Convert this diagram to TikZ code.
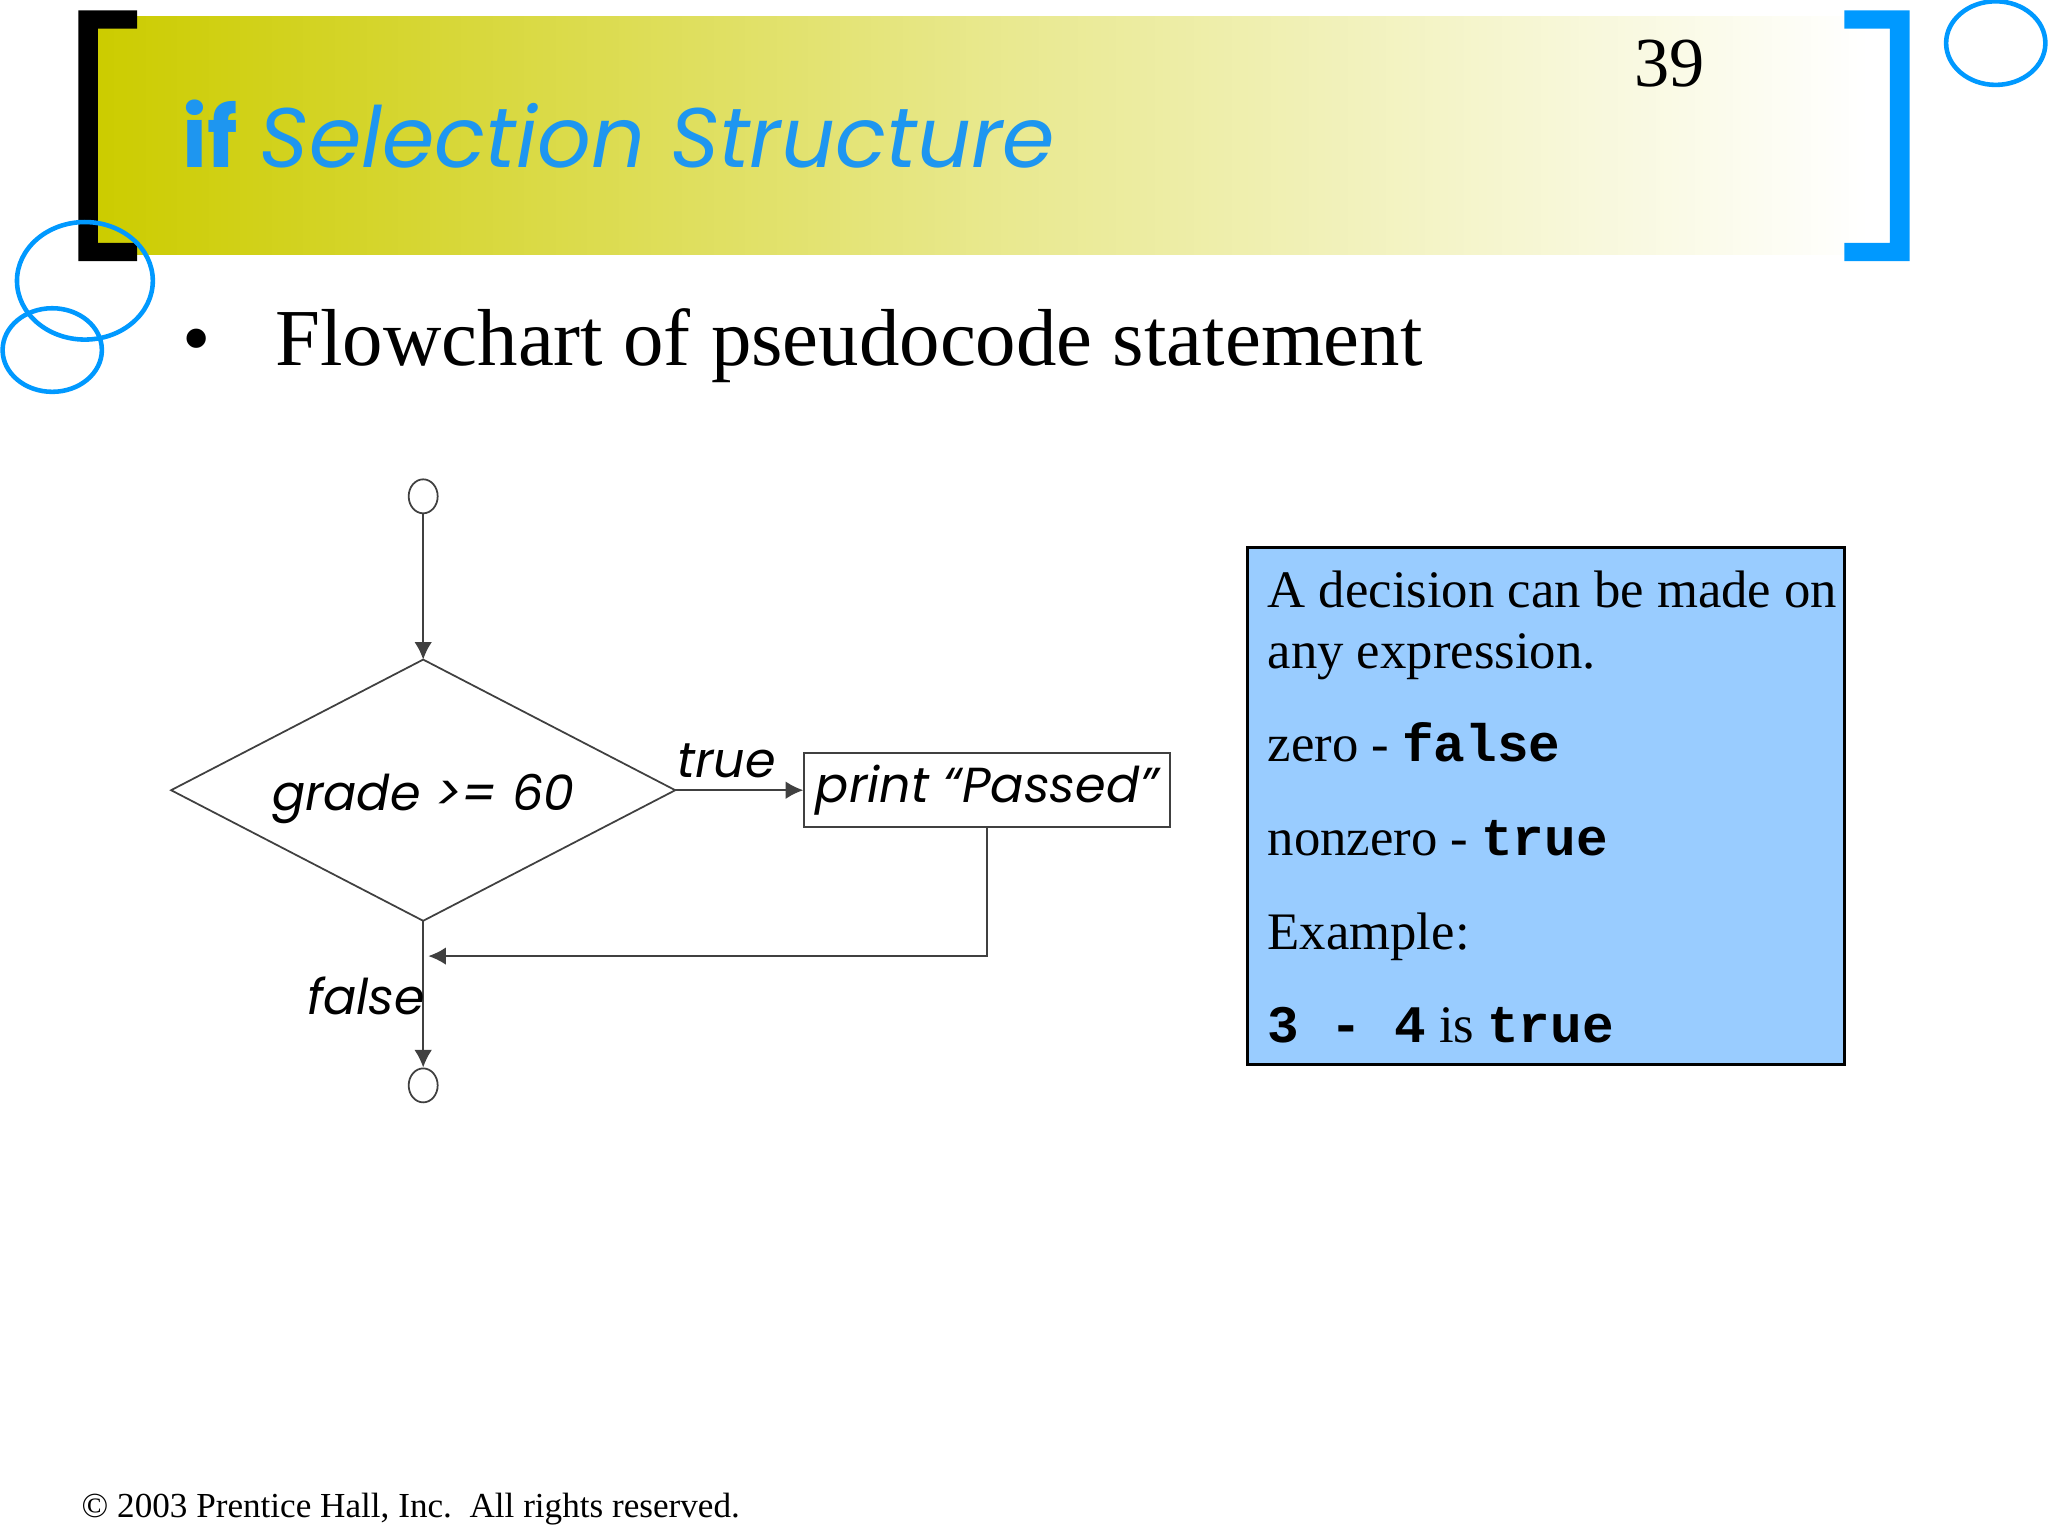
\documentclass[tikz,border=0pt]{standalone}
\usepackage{fontspec}
\setmainfont{Liberation Serif}
\setmonofont{Liberation Mono}
\newfontfamily\gothic{Poppins}
\usetikzlibrary{positioning,shapes.geometric,arrows.meta}
\definecolor{slideblue}{RGB}{0,153,255}
\definecolor{titleblue}{RGB}{30,150,240}
\definecolor{boxblue}{RGB}{153,204,255}
\definecolor{olive}{RGB}{204,204,0}
\tikzset{
  ring/.style={draw=slideblue,line width=1.3pt},
  flow/.style={draw=black!75,line width=0.5pt},
  arr/.style={flow,-{Latex[length=5pt,width=5pt]}},
  term/.style={flow,ellipse,minimum width=0.29cm,minimum height=0.34cm,inner sep=0pt},
  flowtext/.style={font=\gothic\itshape\fontsize{14}{16}\selectfont},
  boxtext/.style={anchor=base west,inner sep=0pt,font=\fontsize{15}{17}\selectfont}
}
\begin{document}
\begin{tikzpicture}[x=0.01306cm,y=-0.01306cm]
\useasboundingbox (0,0) rectangle (1568,1176);
\fill[white] (0,0) rectangle (1568,1176);
% header band
\shade[left color=olive,right color=white,middle color=olive!45] (75,13) rectangle (1430,195);
\fill[black] (60,8) rectangle (75,200) (60,8) rectangle (105,22) (60,186) rectangle (105,200);
\fill[slideblue] (1447,8) rectangle (1462,200) (1412,8) rectangle (1462,22) (1412,186) rectangle (1462,200);
\draw[ring] (1528,33) ellipse [x radius=38,y radius=32];
\draw[ring] (65,215) ellipse [x radius=52,y radius=45];
\draw[ring] (40,268) ellipse [x radius=38,y radius=32];
\node[anchor=base west,text=titleblue,font=\gothic\fontsize{24}{26}\selectfont] (title) at (130,128) {\textbf{if} \textit{Selection Structure}};
\node[anchor=base,font=\fontsize{20}{22}\selectfont] (page) at (1278,66) {39};
\node[anchor=base west,font=\fontsize{23}{26}\selectfont] (bullet) at (130,280) {\textbullet\hspace{0.65cm}Flowchart of pseudocode statement};
% flowchart
\node[term] (start) at (324,380) {};
\coordinate (dtop) at (324,505);
\coordinate (dleft) at (131,605);
\coordinate (dright) at (517,605);
\coordinate (dbot) at (324,705);
\draw[flow] (dtop) -- (dright) -- (dbot) -- (dleft) -- cycle;
\node[flowtext] (cond) at (324,612) {grade >= 60};
\node[flow,flowtext,minimum width=3.47cm,minimum height=0.72cm,anchor=west] (print) at (615,605) {print “Passed”};
\node[term] (stop) at (324,831) {};
\coordinate (corner) at (print.south |- 0,732);
\coordinate (join) at (328,732);
\draw[arr] (start) -- (dtop);
\draw[arr] (dright) -- node[above,flowtext,pos=0.4] {true} (print);
\draw[arr] (print.south) -- (corner) -- (join);
\draw[arr] (dbot) -- (stop);
\node[flowtext,anchor=base east,inner sep=0pt] (false) at (326,777) {false};
% note box
\node[draw=black,fill=boxblue,line width=0.8pt,minimum width=5.97cm,minimum height=5.17cm,anchor=north west] (note) at (954,418) {};
\node[boxtext] (n1) at (970,465) {A decision can be made on};
\node[boxtext] (n2) at (970,512) {any expression.};
\node[boxtext] (n3) at (970,583) {zero - \texttt{\textbf{false}}};
\node[boxtext] (n4) at (970,655) {nonzero - \texttt{\textbf{true}}};
\node[boxtext] (n5) at (970,727) {Example:};
\node[boxtext] (n6) at (970,798) {\texttt{\textbf{3 - 4}} is \texttt{\textbf{true}}};
\node[anchor=base west,inner sep=0pt,font=\fontsize{10}{12}\selectfont] (copy) at (62,1162) {\textcopyright\ 2003 Prentice Hall, Inc.\ \ All rights reserved.};
\end{tikzpicture}
\end{document}
